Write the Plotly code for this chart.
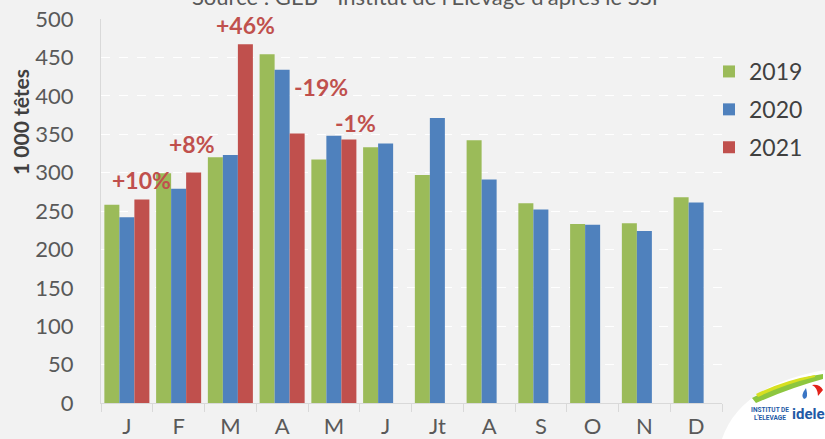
import plotly.graph_objects as go

months = ["J", "F", "M", "A", "M", "J", "Jt", "A", "S", "O", "N", "D"]
v2019 = [258, 299, 320, 454, 317, 333, 297, 342, 260, 233, 234, 268]
v2020 = [242, 279, 323, 434, 348, 338, 371, 291, 252, 232, 224, 261]
v2021 = [265, 300, 467, 351, 343, None, None, None, None, None, None, None]
years = ["2019", "2020", "2021"]
colors = ["#9bbb59", "#4f81bd", "#c0504d"]

# percentage labels: (month index, text, y value, x shift px)
pct_idx = [0, 1, 2, 3, 4]
pct_txt = ["+10%", "+8%", "+46%", "-19%", "-1%"]
pct_y = [290, 337, 492, 411, 364]
pct_dx = [15, 13, 15, 39, 22]

W, H = 825, 439
ML, MR, MT, MB = 101, 103, 19, 36
PW, PH = W - ML - MR, H - MT - MB


def px(x):
    return (x - ML) / PW


def py(y):
    return (H - MB - y) / PH


xs = list(range(len(months)))
fig = go.Figure()
for name, vals, col in zip(years, [v2019, v2020, v2021], colors):
    fig.add_trace(go.Bar(x=xs, y=vals, name=name, marker_color=col,
                         marker_line_width=0, legendgroup=name))

for i, t, yv, dx in zip(pct_idx, pct_txt, pct_y, pct_dx):
    fig.add_annotation(x=i, y=yv, text=t, showarrow=False, xshift=dx,
                       xanchor="center", yanchor="middle",
                       font=dict(family="Lato", size=23, color="#c0504d", weight="bold"))


def note(x, y, text, size, color, family="Lato", **kw):
    kw.setdefault("xanchor", "center")
    kw.setdefault("yanchor", "middle")
    fig.add_annotation(xref="paper", yref="paper", x=px(x), y=py(y), text=text,
                       showarrow=False, font=dict(family=family, size=size, color=color), **kw)


# y-axis title
note(21, 122, "<b>1 000 têtes</b>", 21, "#404040", textangle=-90)

# source title (cut at top)
note(425, -4, "Source : GEB - Institut de l'Elevage d'après le SSI", 22, "#595959")

# logo
def P(x, y):
    return f"{px(x):.5f},{py(y):.5f}"

shapes = [
    dict(type="path", xref="paper", yref="paper",
         path=f"M{P(722,439)} Q{P(740,385)} {P(825,370)} L{P(830,370)} L{P(830,445)} Z",
         fillcolor="white", line=dict(width=0), layer="above"),
    dict(type="path", xref="paper", yref="paper",
         path=f"M{P(752,398)} Q{P(790,378)} {P(823,374)} L{P(823,379)} Q{P(790,388)} {P(756,403)} Z",
         fillcolor="#8dc63f", line=dict(width=0), layer="above"),
    dict(type="path", xref="paper", yref="paper",
         path=f"M{P(756,394)} Q{P(785,380)} {P(815,375)} L{P(815,377)} Q{P(785,384)} {P(758,397)} Z",
         fillcolor="#d7e021", line=dict(width=0), layer="above"),
    dict(type="path", xref="paper", yref="paper",
         path=f"M{P(812,385)} Q{P(820,384)} {P(823,390)} L{P(818,396)} Q{P(818,388)} {P(812,385)} Z",
         fillcolor="#e2231a", line=dict(width=0), layer="above"),
    dict(type="path", xref="paper", yref="paper",
         path=f"M{P(806,388)} Q{P(800,396)} {P(804,399)} Q{P(809,399)} {P(806,388)} Z",
         fillcolor="#3a75c4", line=dict(width=0), layer="above"),
]
note(770, 410, "<b>INSTITUT DE</b>", 6.5, "#1f5aa6", family="Roboto")
note(770, 418, "<b>L'ELEVAGE</b>", 6.5, "#1f5aa6", family="Roboto")
note(790, 414, "<b>idele</b>", 15, "#1f5aa6", family="Roboto", xanchor="left")

fig.update_layout(
    width=W, height=H,
    margin=dict(l=ML, r=MR, t=MT, b=MB, autoexpand=False),
    paper_bgcolor="#f2f2f2", plot_bgcolor="#f2f2f2",
    barmode="group", bargap=0.13, bargroupgap=0,
    font=dict(family="Lato", color="#595959"),
    shapes=shapes,
    legend=dict(x=px(709), xanchor="left", y=py(50), yanchor="top",
                font=dict(family="Lato", size=23, color="#404040"),
                tracegroupgap=5, itemwidth=30, bgcolor="rgba(0,0,0,0)"),
    xaxis=dict(range=[-0.5, 11.5], tickmode="array", tickvals=xs, ticktext=months,
               showgrid=False, showline=True, linecolor="#d9d9d9", linewidth=1,
               ticks="outside", ticklen=4, tickcolor="rgba(0,0,0,0)",
               tickfont=dict(family="Lato", size=22, color="#595959"),
               minor=dict(tickmode="array", tickvals=[i - 0.5 for i in range(13)],
                          ticks="outside", ticklen=8, tickcolor="#d9d9d9", showgrid=False),
               zeroline=False, fixedrange=True, automargin=False),
    yaxis=dict(range=[0, 500], tickvals=list(range(0, 501, 50)),
               showgrid=True, gridcolor="#ffffff", griddash="dash", gridwidth=1,
               showline=True, linecolor="#d9d9d9", zeroline=False,
               ticks="", ticklabelstandoff=22, automargin=False,
               tickfont=dict(family="Lato", size=22, color="#595959"), fixedrange=True),
)

fig.write_html("out.html", config={"displayModeBar": False},
               post_script="document.body.style.margin='0';document.body.style.overflow='hidden';")
